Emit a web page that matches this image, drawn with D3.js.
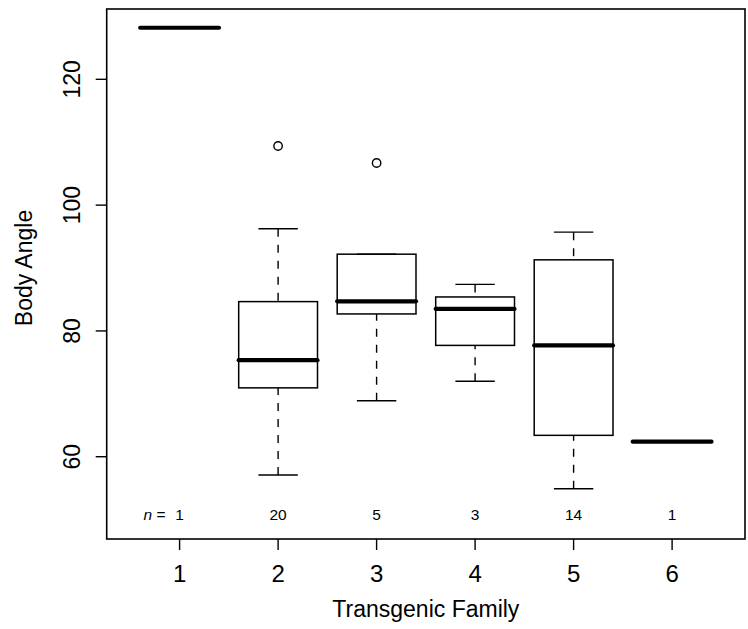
<!DOCTYPE html>
<html>
<head>
<meta charset="utf-8">
<script src="https://cdn.jsdelivr.net/npm/d3@7"></script>
<style>
  html, body { margin: 0; padding: 0; background: #fff; }
  svg { display: block; }
  text { font-family: "Liberation Sans", Arial, Helvetica, sans-serif; fill: #000; }
</style>
</head>
<body>
<script>
// ---- data ----
const families = ["1", "2", "3", "4", "5", "6"];
const counts = [1, 20, 5, 3, 14, 1];
const lowerWhisker = [128.2, 57.1, 68.9, 72.0, 54.9, 62.4];
const q1 = [128.2, 70.95, 82.7, 77.7, 63.4, 62.4];
const medians = [128.2, 75.35, 84.7, 83.5, 77.7, 62.4];
const q3 = [128.2, 84.66, 92.2, 85.4, 91.3, 62.4];
const upperWhisker = [128.2, 96.25, 92.2, 87.4, 95.7, 62.4];
const outlierFamilies = ["2", "3"];
const outlierValues = [109.4, 106.7];
const yTicks = [60, 80, 100, 120];
const xLabel = "Transgenic Family";
const yLabel = "Body Angle";

(function () {
// ---- layout ----
const W = 748, H = 629;
const pLeft = 106.7, pRight = 745, pTop = 9, pBottom = 539;

const svg = d3.select("body").append("svg").attr("width", W).attr("height", H);

const x = d3.scaleLinear().domain([0.26, 6.74]).range([pLeft, pRight]);
const y = d3.scaleLinear().domain([46.92, 131.18]).range([pBottom, pTop]);
const xi = i => x(i + 1);
const boxW = x(0.8) - x(0);
const capW = boxW / 2;

const boxes = families.map((f, i) => ({
  f, i, lo: lowerWhisker[i], q1: q1[i], med: medians[i], q3: q3[i], hi: upperWhisker[i], n: counts[i]
}));

const g = svg.append("g");

boxes.forEach(b => {
  if (b.hi > b.q3) {
    g.append("line").attr("x1", xi(b.i)).attr("x2", xi(b.i))
      .attr("y1", y(b.hi)).attr("y2", y(b.q3))
      .attr("stroke", "#000").attr("stroke-width", 1.4).attr("stroke-dasharray", "8,8");
  }
  if (b.lo < b.q1) {
    g.append("line").attr("x1", xi(b.i)).attr("x2", xi(b.i))
      .attr("y1", y(b.lo)).attr("y2", y(b.q1))
      .attr("stroke", "#000").attr("stroke-width", 1.4).attr("stroke-dasharray", "8,8");
  }
  if (b.n > 1) {
    [b.lo, b.hi].forEach(v => {
      g.append("line").attr("x1", xi(b.i) - capW / 2).attr("x2", xi(b.i) + capW / 2)
        .attr("y1", y(v)).attr("y2", y(v))
        .attr("stroke", "#000").attr("stroke-width", 1.4);
    });
    g.append("rect").attr("x", xi(b.i) - boxW / 2).attr("width", boxW)
      .attr("y", y(b.q3)).attr("height", y(b.q1) - y(b.q3))
      .attr("fill", "none").attr("stroke", "#000").attr("stroke-width", 1.5);
  }
  g.append("line").attr("x1", xi(b.i) - boxW / 2).attr("x2", xi(b.i) + boxW / 2)
    .attr("y1", y(b.med)).attr("y2", y(b.med))
    .attr("stroke", "#000").attr("stroke-width", 4.2).attr("stroke-linecap", "round");
});

outlierFamilies.forEach((f, k) => {
  const i = families.indexOf(f);
  g.append("circle").attr("cx", xi(i)).attr("cy", y(outlierValues[k])).attr("r", 4.2)
    .attr("fill", "none").attr("stroke", "#000").attr("stroke-width", 1.4);
});

const nY = 520;
boxes.forEach(b => {
  g.append("text").attr("x", xi(b.i)).attr("y", nY).attr("text-anchor", "middle")
    .attr("font-size", 15.5).text(b.n);
});
const nt = g.append("text").attr("x", xi(0) - 14).attr("y", nY).attr("text-anchor", "end")
  .attr("font-size", 15.5);
nt.append("tspan").attr("font-style", "italic").text("n");
nt.append("tspan").text(" =");

svg.append("rect").attr("x", pLeft).attr("y", pTop).attr("width", pRight - pLeft).attr("height", pBottom - pTop)
  .attr("fill", "none").attr("stroke", "#000").attr("stroke-width", 1.6);

const ya = svg.append("g");
yTicks.forEach(t => {
  ya.append("line").attr("x1", pLeft - 11).attr("x2", pLeft).attr("y1", y(t)).attr("y2", y(t))
    .attr("stroke", "#000").attr("stroke-width", 1.4);
  ya.append("text").attr("transform", `translate(${pLeft - 27},${y(t)}) rotate(-90)`)
    .attr("text-anchor", "middle").attr("font-size", 23).text(t);
});

const xa = svg.append("g");
families.forEach((f, i) => {
  xa.append("line").attr("x1", xi(i)).attr("x2", xi(i)).attr("y1", pBottom).attr("y2", pBottom + 11)
    .attr("stroke", "#000").attr("stroke-width", 1.4);
  xa.append("text").attr("x", xi(i)).attr("y", 582).attr("text-anchor", "middle")
    .attr("font-size", 24).text(f);
});

svg.append("text").attr("x", (pLeft + pRight) / 2).attr("y", 617).attr("text-anchor", "middle")
  .attr("font-size", 23).attr("fill", "#222").text(xLabel);
svg.append("text").attr("transform", `translate(32,268) rotate(-90)`)
  .attr("text-anchor", "middle").attr("font-size", 23).attr("fill", "#222").text(yLabel);
})();
</script>
</body>
</html>
